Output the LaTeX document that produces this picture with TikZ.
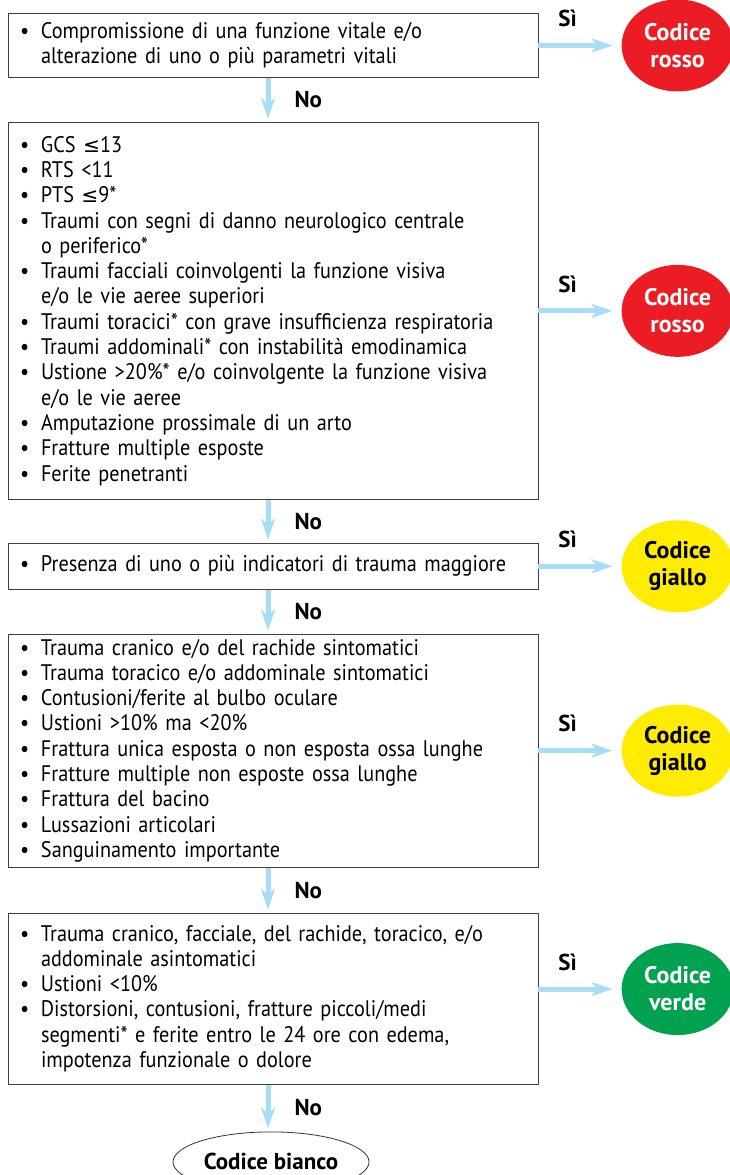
\documentclass[tikz,border=0pt]{standalone}
\usepackage{fontspec}
\setmainfont{PT Sans}[FakeStretch=0.9, BoldFeatures={FakeStretch=1}]
\newfontfamily\simboli{DejaVu Sans}[Scale=0.9]
\usetikzlibrary{arrows.meta,positioning,shapes.geometric}

\definecolor{frecciablu}{HTML}{A8DDF6}
\definecolor{rosso}{HTML}{EC1C24}
\definecolor{giallo}{HTML}{FFEC00}
\definecolor{verde}{HTML}{00A24F}

\newcommand{\voce}{\makebox[21pt][l]{\textbullet}}
\newcommand{\segue}{\hspace*{21pt}}
\newcommand{\mineq}{{\simboli ≤}}

\begin{document}
\begin{tikzpicture}[x=1pt,y=-1pt]
            \tikzset{
              blocco/.style={draw=black!75, line width=0.9pt, minimum width=530pt,
                text width=506pt, inner xsep=12pt, inner ysep=0pt, align=left,
                font=\fontsize{22.5}{25.3}\selectfont},
              codice/.style={ellipse, minimum width=112pt, minimum height=92pt,
                inner sep=0pt, align=center, font=\bfseries\fontsize{24}{27}\selectfont},
              freccia/.style={-{Stealth[length=21pt,width=14pt,inset=6pt]},
                line width=5pt, draw=frecciablu},
              etich/.style={inner sep=0pt, font=\bfseries\fontsize{23}{25}\selectfont},
              si/.style={etich, pos=0.35, above=16pt},
              no/.style={etich, midway, right=24pt},
            }
            \useasboundingbox (0,0) rectangle (730,1175);

            % blocchi di domande
            \node[blocco, anchor=north, minimum height=64pt] (B1) at (273,13)
              {\voce Compromissione di una funzione vitale e/o\\
               \segue alterazione di uno o più parametri vitali};
            \node[blocco, minimum height=377pt, below=44pt of B1] (B2)
              {\voce GCS \mineq13\\
               \voce RTS <11\\
               \voce PTS \mineq9*\\
               \voce Traumi con segni di danno neurologico centrale\\
               \segue o periferico*\\
               \voce Traumi facciali coinvolgenti la funzione visiva\\
               \segue e/o le vie aeree superiori\\
               \voce Traumi toracici* con grave insufficienza respiratoria\\
               \voce Traumi addominali* con instabilità emodinamica\\
               \voce Ustione >20\%* e/o coinvolgente la funzione visiva\\
               \segue e/o le vie aeree\\
               \voce Amputazione prossimale di un arto\\
               \voce Fratture multiple esposte\\
               \voce Ferite penetranti};
            \node[blocco, minimum height=46pt, below=43pt of B2] (B3)
              {\voce Presenza di uno o più indicatori di trauma maggiore};
            \node[blocco, minimum height=233pt, below=44pt of B3] (B4)
              {\voce Trauma cranico e/o del rachide sintomatici\\
               \voce Trauma toracico e/o addominale sintomatici\\
               \voce Contusioni/ferite al bulbo oculare\\
               \voce Ustioni >10\% ma <20\%\\
               \voce Frattura unica esposta o non esposta ossa lunghe\\
               \voce Fratture multiple non esposte ossa lunghe\\
               \voce Frattura del bacino\\
               \voce Lussazioni articolari\\
               \voce Sanguinamento importante};
            \node[blocco, minimum height=171pt, below=45pt of B4] (B5)
              {\voce Trauma cranico, facciale, del rachide, toracico, e/o\\
               \segue addominale asintomatici\\
               \voce Ustioni <10\%\\
               \voce Distorsioni, contusioni, fratture piccoli/medi\\
               \segue segmenti* e ferite entro le 24 ore con edema,\\
               \segue impotenza funzionale o dolore};

            % codici colore
            \node[codice, fill=rosso, text=white, right=83pt of B1] (C1) {Codice\\rosso};
            \node[codice, fill=rosso, text=white, right=83pt of B2] (C2) {Codice\\rosso};
            \node[codice, fill=giallo, right=83pt of B3] (C3) {Codice\\giallo};
            \node[codice, fill=giallo, right=83pt of B4] (C4) {Codice\\giallo};
            \node[codice, fill=verde, text=white, right=83pt of B5, yshift=9.5pt] (C5) {Codice\\verde};
            \node[ellipse, draw=black!80, line width=0.8pt, minimum width=196pt, minimum height=60pt,
              inner sep=0pt, font=\bfseries\fontsize{23}{25}\selectfont,
              below=47pt of B5, xshift=-2pt] (C6) {Codice bianco};

            % frecce Sì
            \draw[freccia, shorten >=9pt] (B1) -- (C1) node[si] {Sì};
            \draw[freccia, shorten >=9pt] (B2) -- (C2) node[si] {Sì};
            \draw[freccia, shorten >=9pt] (B3) -- (C3) node[si] {Sì};
            \draw[freccia, shorten >=9pt] (B4) -- (C4) node[si] {Sì};
            \draw[freccia, shorten >=9pt] (B5.east |- C5) -- (C5) node[si] {Sì};

            % frecce No
            \draw[freccia, shorten >=3pt] ([xshift=-5pt]B1.south) -- ([xshift=-5pt]B2.north) node[no] {No};
            \draw[freccia, shorten >=3pt] ([xshift=-5pt]B2.south) -- ([xshift=-5pt]B3.north) node[no] {No};
            \draw[freccia, shorten >=3pt] ([xshift=-5pt]B3.south) -- ([xshift=-5pt]B4.north) node[no] {No};
            \draw[freccia, shorten >=3pt] ([xshift=-5pt]B4.south) -- ([xshift=-5pt]B5.north) node[no] {No};
            \draw[freccia, shorten >=3pt] ([xshift=-5pt]B5.south) -- ([xshift=-3pt]C6.north) node[no] {No};
          \end{tikzpicture}
\end{document}
